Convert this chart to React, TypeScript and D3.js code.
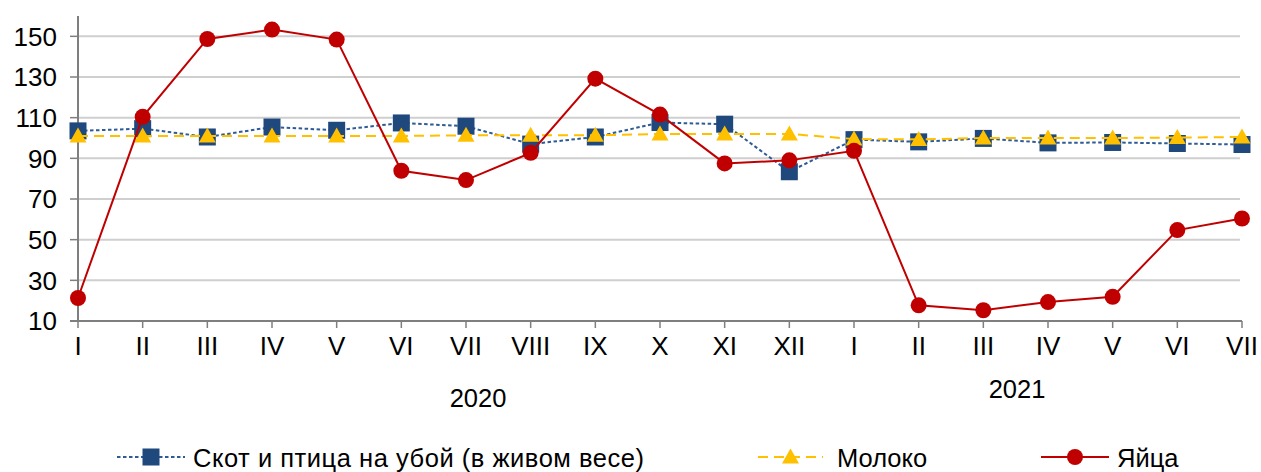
import React from "react";
import * as d3 from "d3";

// месяцы: 2020 I..XII, 2021 I..VII
const months = [
  "I", "II", "III", "IV", "V", "VI", "VII", "VIII", "IX", "X", "XI", "XII",
  "I", "II", "III", "IV", "V", "VI", "VII",
];
const yTicks = [10, 30, 50, 70, 90, 110, 130, 150];
const yearLabels = ["2020", "2021"];

const cattle = [
  103.5, 104.6, 100.5, 105.4, 103.8, 107.4, 105.8, 97, 100.5, 107.6, 106.8, 83.4,
  99.2, 98.1, 99.8, 97.6, 97.8, 97.3, 96.8,
];
const milk = [
  101, 101, 101, 101, 101, 101, 101.3, 101.4, 101.3, 102, 102, 102,
  99.5, 99.3, 100, 100, 100, 100.2, 100.5,
];
const eggs = [
  21.3, 110.4, 148.7, 153.3, 148.4, 83.9, 79.3, 92.7, 129.2, 111.5, 87.5, 89,
  93.7, 17.7, 15.3, 19.3, 21.9, 54.7, 60.4,
];

const seriesNames = ["Скот и птица на убой (в живом весе)", "Молоко", "Яйца"];

const W = 1261;
const H = 472;
const FONT = "'Liberation Sans', Arial, sans-serif";

function Marker({ kind, x, y }: { kind: string; x: number; y: number }) {
  if (kind === "square")
    return <rect x={x - 8.5} y={y - 8.5} width={17} height={17} fill="#1F497D" />;
  if (kind === "triangle")
    return (
      <path
        d={`M${x},${y - 8.5} L${x + 8.5},${y + 6.5} L${x - 8.5},${y + 6.5} Z`}
        fill="#FFC000"
      />
    );
  return <circle cx={x} cy={y} r={8} fill="#C00000" />;
}

export default function App() {
  const x = d3.scalePoint<number>().domain(d3.range(months.length)).range([78, 1242]);
  const y = d3.scaleLinear().domain([10, 160]).range([321, 16]);

  const line = d3
    .line<number>()
    .x((_, i) => x(i)!)
    .y((d) => y(d));

  const series = [
    { name: seriesNames[0], data: cattle, color: "#2E5B95", dash: "3.5,2.5", marker: "square" },
    { name: seriesNames[1], data: milk, color: "#FFC000", dash: "10,6", marker: "triangle" },
    { name: seriesNames[2], data: eggs, color: "#C00000", dash: "", marker: "circle" },
  ];

  const legendPos = [
    { x0: 117, x1: 185, text: 193, len: 451 },
    { x0: 758, x1: 823, text: 837, len: 0 },
    { x0: 1041, x1: 1109, text: 1117, len: 0 },
  ];

  return (
    <svg
      width={W}
      height={H}
      style={{ position: "absolute", left: 0, top: 0, background: "#fff" }}
      fontFamily={FONT}
    >
      {/* сетка */}
      {yTicks.map((t) => (
        <line key={t} x1={78} x2={1240} y1={y(t)} y2={y(t)} stroke="#CFCFCF" strokeWidth={2} />
      ))}

      {/* оси */}
      <line x1={78} x2={78} y1={16} y2={321} stroke="#7F7F7F" strokeWidth={2} />
      <line x1={70} x2={1242} y1={321} y2={321} stroke="#7F7F7F" strokeWidth={2} />
      {yTicks.map((t) => (
        <g key={"yt" + t}>
          <line x1={70} x2={78} y1={y(t)} y2={y(t)} stroke="#7F7F7F" strokeWidth={1.5} />
          <text x={57} y={y(t) + 9.3} textAnchor="end" fontSize={26} fill="#000">
            {t}
          </text>
        </g>
      ))}
      {months.map((m, i) => (
        <g key={"xt" + i}>
          <line x1={x(i)} x2={x(i)} y1={321} y2={328} stroke="#7F7F7F" strokeWidth={1.5} />
          <text x={x(i)} y={354.5} textAnchor="middle" fontSize={26} fill="#000">
            {m}
          </text>
        </g>
      ))}
      <text x={478} y={407} textAnchor="middle" fontSize={25.5}>
        {yearLabels[0]}
      </text>
      <text x={1017} y={398} textAnchor="middle" fontSize={25.5}>
        {yearLabels[1]}
      </text>

      {/* ряды */}
      {series.map((s) => (
        <g key={s.name}>
          <path
            d={line(s.data) ?? ""}
            fill="none"
            stroke={s.color}
            strokeWidth={2}
            strokeDasharray={s.dash || undefined}
          />
          {s.data.map((v, i) => (
            <Marker key={i} kind={s.marker} x={x(i)!} y={y(v)} />
          ))}
        </g>
      ))}

      {/* легенда */}
      {series.map((s, k) => {
        const p = legendPos[k];
        return (
          <g key={"lg" + k}>
            <line
              x1={p.x0}
              x2={p.x1}
              y1={457}
              y2={457}
              stroke={s.color}
              strokeWidth={2}
              strokeDasharray={s.dash || undefined}
            />
            <Marker kind={s.marker} x={(p.x0 + p.x1) / 2} y={457} />
            <text
              x={p.text}
              y={466.5}
              fontSize={25.5}
              fill="#000"
              textLength={p.len || undefined}
              lengthAdjust={p.len ? "spacing" : undefined}
            >
              {s.name}
            </text>
          </g>
        );
      })}
    </svg>
  );
}
